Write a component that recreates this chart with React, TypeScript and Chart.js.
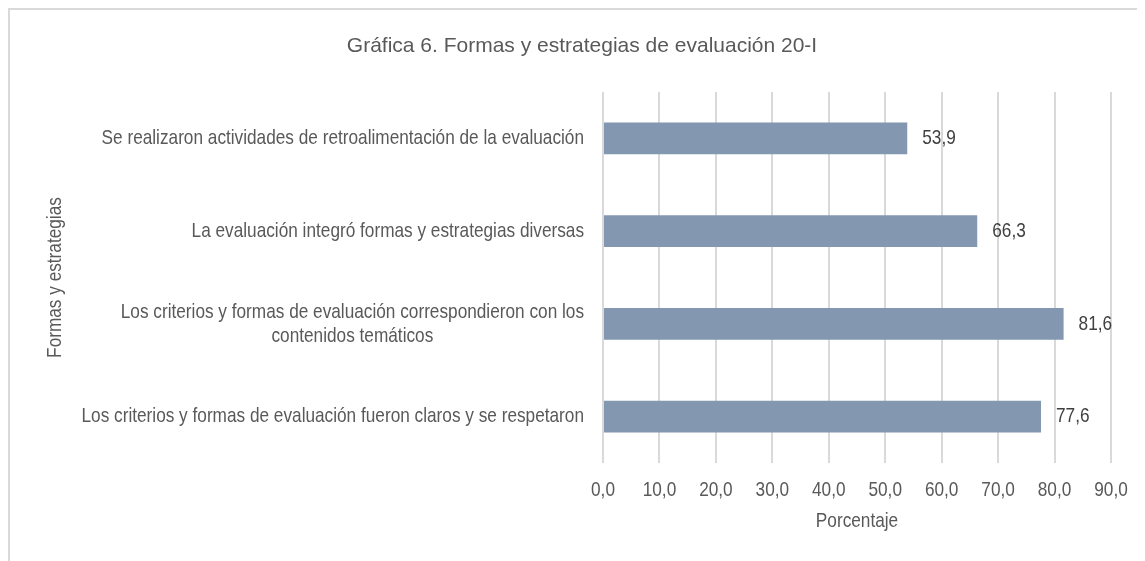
import React, { useEffect, useRef } from "react";
import { Chart, registerables } from "chart.js";

Chart.register(...registerables);

const titleText = "Gráfica 6. Formas y estrategias de evaluación 20-I";
const categories: (string | string[])[] = [
  "Se realizaron actividades de retroalimentación de la evaluación",
  "La evaluación integró formas y estrategias diversas",
  ["Los criterios y formas de evaluación correspondieron con los", "contenidos temáticos"],
  "Los criterios y formas de evaluación fueron claros y se respetaron",
];
const values = [53.9, 66.3, 81.6, 77.6];
const xTicks = [0, 10, 20, 30, 40, 50, 60, 70, 80, 90];
const xTitle = "Porcentaje";
const yTitle = "Formas y estrategias";

const FONT = "'Liberation Sans', Arial, sans-serif";
const NARROW = 0.82;
const fmt = (v: number) => v.toFixed(1).replace(".", ",");

const W = 1135;
const H = 551;

function drawText(
  ctx: CanvasRenderingContext2D,
  text: string,
  x: number,
  y: number,
  opts: { size: number; color: string; align?: CanvasTextAlign; k?: number; rotate?: boolean; baseline?: CanvasTextBaseline }
) {
  ctx.save();
  ctx.translate(x, y);
  if (opts.rotate) ctx.rotate(-Math.PI / 2);
  ctx.scale(opts.k ?? NARROW, 1);
  ctx.font = `${opts.size}px ${FONT}`;
  ctx.fillStyle = opts.color;
  ctx.textAlign = opts.align ?? "center";
  ctx.textBaseline = opts.baseline ?? "middle";
  ctx.fillText(text, 0, 0);
  ctx.restore();
}

export default function App() {
  const ref = useRef<HTMLCanvasElement | null>(null);
  useEffect(() => {
    if (!ref.current) return;
    const textPlugin = {
      id: "texts",
      afterDraw(chart: any) {
        const ctx: CanvasRenderingContext2D = chart.ctx;
        const xs = chart.scales.x;
        const ys = chart.scales.y;
        const area = chart.chartArea;
        const grey = "#595959";
        // title
        drawText(ctx, titleText, 572, 42, { size: 21, color: grey, k: 1, baseline: "alphabetic" });
        // category labels
        const xr = 574;
        const lh = 24;
        ctx.save();
        ctx.font = `21px ${FONT}`;
        categories.forEach((lab, i) => {
          const lines = Array.isArray(lab) ? lab : [lab];
          const w = Math.max(...lines.map((l) => ctx.measureText(l).width)) * NARROW;
          const cy = ys.getPixelForValue(i);
          lines.forEach((l, j) => {
            drawText(ctx, l, xr - w / 2, cy + (j - (lines.length - 1) / 2) * lh, { size: 21, color: grey });
          });
        });
        ctx.restore();
        // x tick labels
        xTicks.forEach((v) => {
          drawText(ctx, fmt(v), xs.getPixelForValue(v), area.bottom + 27, { size: 21, color: grey });
        });
        // axis titles
        drawText(ctx, xTitle, (area.left + area.right) / 2, area.bottom + 58, { size: 21, color: grey });
        drawText(ctx, yTitle, 45, (area.top + area.bottom) / 2, { size: 21, color: grey, rotate: true });
        // data labels
        const meta = chart.getDatasetMeta(0);
        meta.data.forEach((bar: any, i: number) => {
          drawText(ctx, fmt(values[i]), bar.x + 15, bar.y, { size: 21, color: "#404040", align: "left" });
        });
      },
    };
    const chart = new Chart(ref.current, {
      type: "bar",
      data: {
        labels: categories.map((c) => (Array.isArray(c) ? c.join(" ") : c)),
        datasets: [
          {
            data: values,
            backgroundColor: "#8497B0",
            borderWidth: 0,
            barPercentage: 0.345,
            categoryPercentage: 1,
          },
        ],
      },
      options: {
        indexAxis: "y",
        responsive: false,
        animation: false,
        layout: { padding: { left: 0, right: 34, top: 82, bottom: 0 } },
        plugins: {
          legend: { display: false },
          tooltip: { enabled: false },
          title: { display: false },
        },
        scales: {
          x: {
            type: "linear",
            min: 0,
            max: 90,
            afterBuildTicks(scale: any) {
              scale.ticks = xTicks.map((v) => ({ value: v }));
            },
            afterFit(scale: any) {
              scale.height = H - 453 - 82 + 82;
            },
            ticks: { display: false },
            grid: { color: "#d9d9d9", lineWidth: 2, drawTicks: false },
            border: { display: false },
            title: { display: false },
          },
          y: {
            type: "category",
            afterFit(scale: any) {
              scale.width = 593;
            },
            ticks: { display: false },
            grid: { display: false, drawTicks: false },
            border: { display: false },
            title: { display: false },
          },
        },
      },
      plugins: [textPlugin],
    });
    return () => chart.destroy();
  }, []);
  return (
    <div
      style={{
        borderLeft: "2px solid #d9d9d9",
        borderTop: "2px solid #d9d9d9",
        width: W,
        height: H,
        background: "#fff",
      }}
    >
      <canvas ref={ref} width={W} height={H} style={{ display: "block" }} />
    </div>
  );
}
